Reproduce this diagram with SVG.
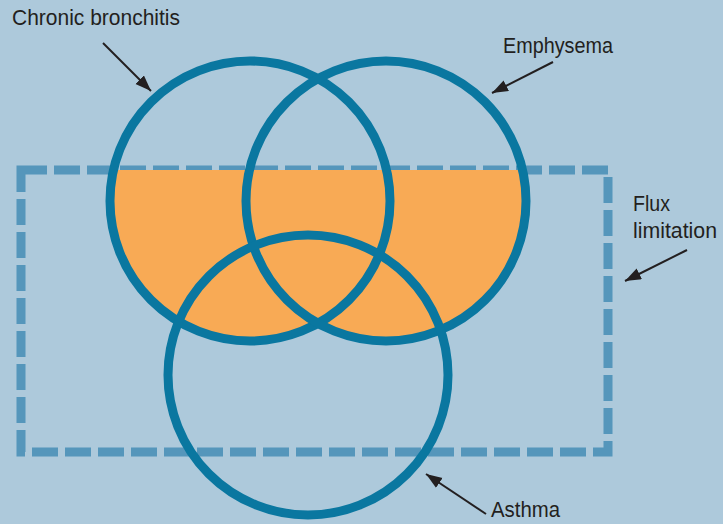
<svg xmlns="http://www.w3.org/2000/svg" width="723" height="524" viewBox="0 0 723 524">
<style>
.bg{fill:#ADC9DB}
.ring{fill:none;stroke:#0A77A0;stroke-width:9}
.fill{fill:#F8AA55}
.dash{fill:none;stroke:#5596BB;stroke-width:9;stroke-dasharray:26 7}
.lbl{font-family:"Liberation Sans",Arial,sans-serif;font-size:22px;fill:#231F20}
.arr{stroke:#231F20;stroke-width:2;fill:none}
</style>
<defs>
<marker id="ah" markerUnits="userSpaceOnUse" markerWidth="18" markerHeight="14" refX="16" refY="6" orient="auto">
<path d="M0,0 L16,6 L0,12 Z" fill="#231F20"/>
</marker>
<clipPath id="below"><rect x="0" y="170" width="723" height="354"/></clipPath>
</defs>
<rect class="bg" x="0" y="0" width="723" height="524"/>
<g id="flux-limitation">
<path class="dash" d="M21,170 H608 V452 H21 Z"/>
</g>
<g id="overlap-fill" clip-path="url(#below)">
<circle class="fill" cx="250" cy="201" r="140"/>
<circle class="fill" cx="386" cy="201" r="140"/>
</g>
<g id="chronic-bronchitis"><circle class="ring" cx="250" cy="201" r="140"/></g>
<g id="emphysema"><circle class="ring" cx="386" cy="201" r="140"/></g>
<g id="asthma"><circle class="ring" cx="308" cy="375" r="140"/></g>
<g id="labels">
<text class="lbl" x="12" y="25" textLength="168" lengthAdjust="spacingAndGlyphs">Chronic bronchitis</text>
<text class="lbl" x="503" y="53" textLength="110" lengthAdjust="spacingAndGlyphs">Emphysema</text>
<text class="lbl" x="633" y="211" textLength="37" lengthAdjust="spacingAndGlyphs">Flux</text>
<text class="lbl" x="633" y="238" textLength="84" lengthAdjust="spacingAndGlyphs">limitation</text>
<text class="lbl" x="491" y="517" textLength="69" lengthAdjust="spacingAndGlyphs">Asthma</text>
</g>
<g id="connectors">
<line class="arr" x1="103" y1="43" x2="151" y2="91" marker-end="url(#ah)"/>
<line class="arr" x1="553" y1="62" x2="492" y2="93" marker-end="url(#ah)"/>
<line class="arr" x1="687" y1="250" x2="625" y2="281" marker-end="url(#ah)"/>
<line class="arr" x1="486" y1="514" x2="426" y2="474" marker-end="url(#ah)"/>
</g>
</svg>
